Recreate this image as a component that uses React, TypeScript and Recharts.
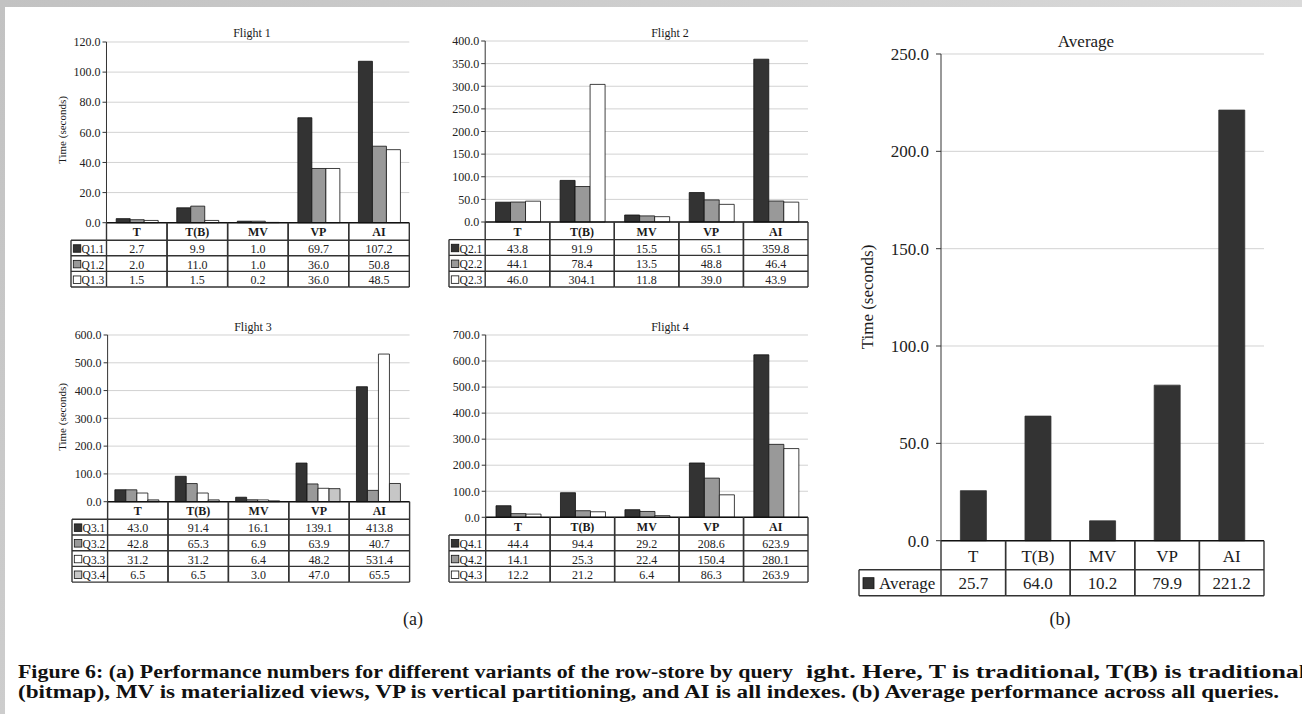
import React from 'react';
import { BarChart, Bar, XAxis, YAxis, CartesianGrid } from 'recharts';

// Row-store variants (table columns / bar categories)
const CATEGORIES = ['T', 'T(B)', 'MV', 'VP', 'AI'];

// Flight 1 query times (seconds)
const Q1_1 = [2.7, 9.9, 1.0, 69.7, 107.2];
const Q1_2 = [2.0, 11.0, 1.0, 36.0, 50.8];
const Q1_3 = [1.5, 1.5, 0.2, 36.0, 48.5];

// Flight 2
const Q2_1 = [43.8, 91.9, 15.5, 65.1, 359.8];
const Q2_2 = [44.1, 78.4, 13.5, 48.8, 46.4];
const Q2_3 = [46.0, 304.1, 11.8, 39.0, 43.9];

// Flight 3
const Q3_1 = [43.0, 91.4, 16.1, 139.1, 413.8];
const Q3_2 = [42.8, 65.3, 6.9, 63.9, 40.7];
const Q3_3 = [31.2, 31.2, 6.4, 48.2, 531.4];
const Q3_4 = [6.5, 6.5, 3.0, 47.0, 65.5];

// Flight 4
const Q4_1 = [44.4, 94.4, 29.2, 208.6, 623.9];
const Q4_2 = [14.1, 25.3, 22.4, 150.4, 280.1];
const Q4_3 = [12.2, 21.2, 6.4, 86.3, 263.9];

// Average across all queries
const AVERAGE = [25.7, 64.0, 10.2, 79.9, 221.2];

// Y-axis tick values
const TICKS_F1 = [0, 20, 40, 60, 80, 100, 120];
const TICKS_F2 = [0, 50, 100, 150, 200, 250, 300, 350, 400];
const TICKS_F3 = [0, 100, 200, 300, 400, 500, 600];
const TICKS_F4 = [0, 100, 200, 300, 400, 500, 600, 700];
const TICKS_AVG = [0, 50, 100, 150, 200, 250];

const DARK = '#333333';
const MID = '#999999';
const WHITE = '#ffffff';
const LIGHT = '#c6c6c6';
const SERIF = '"Liberation Serif", "Times New Roman", serif';

type Series = { name: string; values: number[]; fill: string };
type Layout = {
  plotLeft: number;
  plotRight: number;
  plotTop: number;
  plotBottom: number;
  tableLeft: number;
  headerH: number;
  rowH: number;
  font: number;
  legendFont: number;
  headerBold: boolean;
  gap: string;
  tickSize: number;
  tickMargin: number;
  swatch: number;
  swatchX: number;
  nameX: number;
  barStroke: string;
};

function TableTick(props: any) {
  const { x, y, payload, series, L } = props;
  const n = CATEGORIES.length;
  const bw = (L.plotRight - L.plotLeft) / n;
  const idx = CATEGORIES.indexOf(payload.value);
  const x0 = x - bw / 2;
  const x1 = x + bw / 2;
  const hb = y + L.headerH;
  const bottom = hb + L.rowH * series.length;
  const lc = '#333';
  const sw = 1.4;
  const els: any[] = [];
  els.push(<line key="vl" x1={x0} x2={x0} y1={y} y2={bottom} stroke={lc} strokeWidth={sw} />);
  els.push(<line key="vr" x1={x1} x2={x1} y1={y} y2={bottom} stroke={lc} strokeWidth={sw} />);
  for (let r = 0; r <= series.length; r++) {
    const yy = hb + r * L.rowH;
    els.push(<line key={'h' + r} x1={x0} x2={x1} y1={yy} y2={yy} stroke={lc} strokeWidth={sw} />);
  }
  els.push(
    <text key="hd" x={x} y={y + L.headerH / 2 + 1} textAnchor="middle" dominantBaseline="central"
      fontFamily={SERIF} fontSize={L.font} fontWeight={L.headerBold ? 'bold' : 'normal'} fill="#1a1a1a">
      {payload.value}
    </text>
  );
  series.forEach((s: Series, r: number) => {
    els.push(
      <text key={'v' + r} x={x} y={hb + L.rowH * (r + 0.5) + 1} textAnchor="middle" dominantBaseline="central"
        fontFamily={SERIF} fontSize={L.font} fill="#222">
        {s.values[idx].toFixed(1)}
      </text>
    );
  });
  if (idx === 0) {
    const lx = x0 - (L.plotLeft - L.tableLeft);
    els.push(<line key="lv" x1={lx} x2={lx} y1={hb} y2={bottom} stroke={lc} strokeWidth={sw} />);
    for (let r = 0; r <= series.length; r++) {
      const yy = hb + r * L.rowH;
      els.push(<line key={'lh' + r} x1={lx} x2={x0} y1={yy} y2={yy} stroke={lc} strokeWidth={sw} />);
    }
    series.forEach((s: Series, r: number) => {
      const cy = hb + L.rowH * (r + 0.5);
      els.push(
        <rect key={'ls' + r} x={lx + L.swatchX} y={cy - L.swatch / 2 + 0.5} width={L.swatch} height={L.swatch}
          fill={s.fill} stroke="#111" strokeWidth={0.8} />
      );
      els.push(
        <text key={'ln' + r} x={lx + L.nameX} y={cy + 1} dominantBaseline="central"
          fontFamily={SERIF} fontSize={L.legendFont} fill="#1a1a1a">
          {s.name}
        </text>
      );
    });
  }
  return <g>{els}</g>;
}

function Panel({ series, ticks, L }: { series: Series[]; ticks: number[]; L: Layout }) {
  const boxLeft = L.tableLeft - 2;
  const boxTop = L.plotTop - 10;
  const tableBottom = L.plotBottom + L.headerH + L.rowH * series.length;
  const boxBottom = tableBottom + 4;
  const boxRight = L.plotRight + 4;
  const width = boxRight - boxLeft;
  const height = boxBottom - boxTop;
  const yMax = ticks[ticks.length - 1];
  const data = CATEGORIES.map((c, i) => {
    const row: any = { cat: c };
    series.forEach((s, k) => {
      row['s' + k] = s.values[i];
    });
    return row;
  });
  return (
    <div style={{ position: 'absolute', left: boxLeft, top: boxTop }}>
      <BarChart width={width} height={height} data={data}
        margin={{ top: L.plotTop - boxTop, right: boxRight - L.plotRight, bottom: 0, left: 0 }}
        barCategoryGap={L.gap} barGap={0}>
        <CartesianGrid vertical={false} stroke="#d2d2d2" strokeWidth={1} />
        <XAxis dataKey="cat" height={boxBottom - L.plotBottom} interval={0} tickLine={false}
          tickSize={0} tickMargin={0} axisLine={{ stroke: '#111', strokeWidth: 1.6 }}
          tick={(p: any) => <TableTick {...p} series={series} L={L} />} />
        <XAxis xAxisId="frame" orientation="top" dataKey="cat" height={0} tick={false}
          tickLine={false} axisLine={{ stroke: '#a0a0a0' }} />
        <YAxis width={L.plotLeft - boxLeft} domain={[0, yMax]} ticks={ticks} interval={0}
          tickFormatter={(v: number) => v.toFixed(1)} tickSize={L.tickSize} tickMargin={L.tickMargin}
          axisLine={{ stroke: '#333' }} tickLine={{ stroke: '#333' }}
          tick={{ fontSize: L.font, fill: '#222', fontFamily: SERIF }} />
        <YAxis yAxisId="frame" orientation="right" width={0} domain={[0, yMax]} tick={false}
          tickLine={false} axisLine={{ stroke: '#a0a0a0' }} />
        {series.map((s, k) => (
          <Bar key={k} dataKey={'s' + k} fill={s.fill} stroke={L.barStroke} strokeWidth={0.8}
            isAnimationActive={false} />
        ))}
      </BarChart>
    </div>
  );
}

const SMALL = {
  font: 12, legendFont: 11.5, headerBold: true, tickSize: 4, tickMargin: 2,
  swatch: 7.5, swatchX: 2.3, nameX: 10.6, barStroke: '#111',
};

const L1: Layout = { ...SMALL, plotLeft: 106.5, plotRight: 409.3, plotTop: 42, plotBottom: 222.7, tableLeft: 71, headerH: 17.5, rowH: 15.6, gap: '16%' };
const L2: Layout = { ...SMALL, plotLeft: 485.5, plotRight: 808.3, plotTop: 40.7, plotBottom: 221.7, tableLeft: 449.3, headerH: 17.6, rowH: 15.8, gap: '16%' };
const L3: Layout = { ...SMALL, plotLeft: 107.3, plotRight: 409.3, plotTop: 335, plotBottom: 501.7, tableLeft: 71.7, headerH: 17.6, rowH: 15.7, gap: '12%' };
const L4: Layout = { ...SMALL, plotLeft: 486, plotRight: 808.3, plotTop: 335, plotBottom: 517.3, tableLeft: 449.3, headerH: 17.7, rowH: 15.7, gap: '16%' };
const LA: Layout = {
  font: 17, legendFont: 17, headerBold: false, tickSize: 5, tickMargin: 7, swatch: 11, swatchX: 4, nameX: 20,
  barStroke: DARK, plotLeft: 941, plotRight: 1264, plotTop: 54.3, plotBottom: 541, tableLeft: 859,
  headerH: 29, rowH: 26, gap: '30%',
};

export default function App() {
  const f1: Series[] = [
    { name: 'Q1.1', values: Q1_1, fill: DARK },
    { name: 'Q1.2', values: Q1_2, fill: MID },
    { name: 'Q1.3', values: Q1_3, fill: WHITE },
  ];
  const f2: Series[] = [
    { name: 'Q2.1', values: Q2_1, fill: DARK },
    { name: 'Q2.2', values: Q2_2, fill: MID },
    { name: 'Q2.3', values: Q2_3, fill: WHITE },
  ];
  const f3: Series[] = [
    { name: 'Q3.1', values: Q3_1, fill: DARK },
    { name: 'Q3.2', values: Q3_2, fill: MID },
    { name: 'Q3.3', values: Q3_3, fill: WHITE },
    { name: 'Q3.4', values: Q3_4, fill: LIGHT },
  ];
  const f4: Series[] = [
    { name: 'Q4.1', values: Q4_1, fill: DARK },
    { name: 'Q4.2', values: Q4_2, fill: MID },
    { name: 'Q4.3', values: Q4_3, fill: WHITE },
  ];
  const avg: Series[] = [{ name: 'Average', values: AVERAGE, fill: DARK }];

  return (
    <div style={{ position: 'absolute', left: 0, top: 0, width: 1302, height: 714, background: '#fff', overflow: 'hidden', fontFamily: SERIF }}>
      <div style={{ position: 'absolute', left: 0, top: 0, width: 1302, height: 7, background: 'linear-gradient(90deg, #c2c2c2, #dadada)' }} />
      <div style={{ position: 'absolute', left: 0, top: 0, width: 5, height: 714, background: 'linear-gradient(180deg, #c2c2c2, #cdcdcd)' }} />

      <Panel series={f1} ticks={TICKS_F1} L={L1} />
      <Panel series={f2} ticks={TICKS_F2} L={L2} />
      <Panel series={f3} ticks={TICKS_F3} L={L3} />
      <Panel series={f4} ticks={TICKS_F4} L={L4} />
      <Panel series={avg} ticks={TICKS_AVG} L={LA} />

      <svg width={1302} height={714} style={{ position: 'absolute', left: 0, top: 0, pointerEvents: 'none' }}>
        <g fontFamily={SERIF} fill="#1a1a1a">
          <text x={252} y={37} textAnchor="middle" fontSize={12}>Flight 1</text>
          <text x={670} y={37} textAnchor="middle" fontSize={12}>Flight 2</text>
          <text x={253} y={331} textAnchor="middle" fontSize={12}>Flight 3</text>
          <text x={670} y={331} textAnchor="middle" fontSize={12}>Flight 4</text>
          <text x={1086} y={47} textAnchor="middle" fontSize={17}>Average</text>

          <text transform="translate(62,130) rotate(-90)" textAnchor="middle" dominantBaseline="central" fontSize={11}>Time (seconds)</text>
          <text transform="translate(62,417) rotate(-90)" textAnchor="middle" dominantBaseline="central" fontSize={11}>Time (seconds)</text>
          <text transform="translate(867,297) rotate(-90)" textAnchor="middle" dominantBaseline="central" fontSize={17}>Time (seconds)</text>

          <text x={413} y={625} textAnchor="middle" fontSize={18}>(a)</text>
          <text x={1060} y={625} textAnchor="middle" fontSize={18}>(b)</text>
        </g>
        <g fontFamily={SERIF} fontWeight="bold" fontSize={19} fill="#111">
          <text x={18} y={678} textLength={775} lengthAdjust="spacingAndGlyphs">Figure 6: (a) Performance numbers for different variants of the row-store by query</text>
          <text x={806} y={678} textLength={500} lengthAdjust="spacingAndGlyphs">ight. Here, T is traditional, T(B) is traditional</text>
          <text x={18} y={698} textLength={1261} lengthAdjust="spacingAndGlyphs">(bitmap), MV is materialized views, VP is vertical partitioning, and AI is all indexes. (b) Average performance across all queries.</text>
        </g>
      </svg>
    </div>
  );
}
